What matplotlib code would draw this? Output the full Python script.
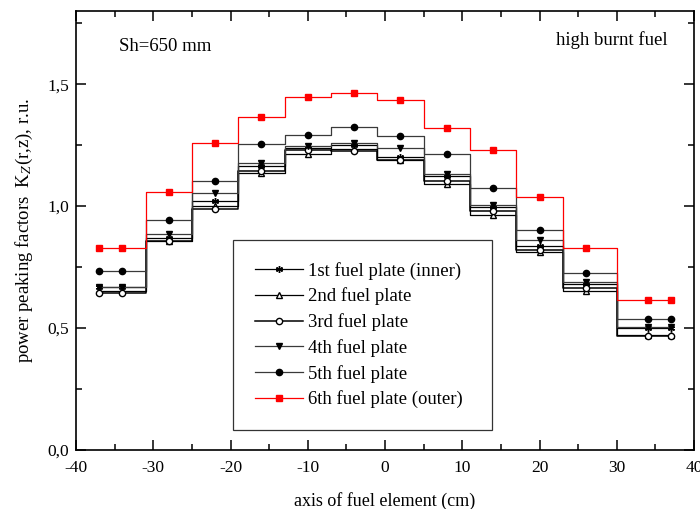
import matplotlib
matplotlib.use("Agg")
import matplotlib.pyplot as plt
from matplotlib.ticker import MultipleLocator, FuncFormatter

plt.rcParams['font.family'] = ['Liberation Serif', 'DejaVu Serif']
plt.rcParams['mathtext.fontset'] = 'stix'
plt.rcParams['axes.unicode_minus'] = False

x = [-37, -34, -28, -22, -16, -10, -4, 2, 8, 14, 20, 26, 34, 37]
plate1 = [0.668, 0.668, 0.868, 1.020, 1.165, 1.240, 1.250, 1.200, 1.123, 0.995, 0.835, 0.680, 0.500, 0.500]
plate2 = [0.650, 0.650, 0.858, 1.000, 1.135, 1.215, 1.235, 1.190, 1.090, 0.965, 0.812, 0.650, 0.470, 0.470]
plate3 = [0.645, 0.645, 0.857, 0.990, 1.142, 1.232, 1.225, 1.191, 1.105, 0.980, 0.820, 0.663, 0.468, 0.468]
plate4 = [0.669, 0.669, 0.884, 1.055, 1.175, 1.245, 1.257, 1.239, 1.130, 1.005, 0.861, 0.689, 0.505, 0.505]
plate5 = [0.735, 0.735, 0.943, 1.102, 1.255, 1.290, 1.325, 1.286, 1.212, 1.074, 0.903, 0.725, 0.536, 0.536]
plate6 = [0.830, 0.830, 1.056, 1.258, 1.366, 1.448, 1.464, 1.436, 1.320, 1.232, 1.038, 0.829, 0.613, 0.613]

labels = ["1st fuel plate (inner)", "2nd fuel plate", "3rd fuel plate",
          "4th fuel plate", "5th fuel plate", "6th fuel plate (outer)"]

fig = plt.figure(figsize=(7.0, 5.09), dpi=100)
ax = fig.add_axes([76/700, 1 - 450/509, (694-76)/700, (450-11)/509])

styles = [
    dict(color='black', marker=(6, 2, 0), mfc='black', mec='black', ms=5, lw=0.9),
    dict(color='black', marker='^', mfc='white', mec='black', ms=4.5, lw=0.9),
    dict(color='black', marker='o', mfc='white', mec='black', ms=4.5, lw=1.1),
    dict(color='#3a3a3a', marker='v', mfc='black', mec='black', ms=5, lw=0.9),
    dict(color='#3a3a3a', marker='o', mfc='black', mec='black', ms=4.5, lw=0.9),
    dict(color='#ff0000', marker='s', mfc='#ff0000', mec='#ff0000', ms=4, lw=0.9),
]
series = [plate1, plate2, plate3, plate4, plate5, plate6]
for ys, lab, st in zip(series, labels, styles):
    ax.plot(x, ys, drawstyle='steps-mid', label=lab, **st)

ax.set_xlim(-40, 40)
ax.set_ylim(0, 1.8)
ax.xaxis.set_major_locator(MultipleLocator(10))
ax.xaxis.set_minor_locator(MultipleLocator(5))
ax.yaxis.set_major_locator(MultipleLocator(0.5))
ax.yaxis.set_minor_locator(MultipleLocator(0.25))
ax.yaxis.set_major_formatter(FuncFormatter(lambda v, p: f"{v:.1f}".replace('.', ',')))
ax.tick_params(which='both', direction='in', top=True, right=True, labelsize=12.5, width=1.1)
ax.tick_params(which='major', length=7)
ax.tick_params(axis='x', which='major', pad=7)
ax.tick_params(axis='y', which='major', pad=5)
ax.tick_params(which='minor', length=4)
for s in ax.spines.values():
    s.set_linewidth(1.2)

ax.set_xlabel("axis of fuel element (cm)", fontsize=13, labelpad=12)
ax.set_ylabel(r"power peaking factors  K$_{Z}$(r,z), r.u.", fontsize=13.5, labelpad=9)

ax.text(0.0696, 0.92, "Sh=650 mm", transform=ax.transAxes, fontsize=13.5, ha='left', va='center')
ax.text(0.958, 0.934, "high burnt fuel", transform=ax.transAxes, fontsize=13.5, ha='right', va='center')

leg = ax.legend(loc='lower left', bbox_to_anchor=(0.254, 0.0456, 0.419, 0.435), mode='expand',
                fontsize=13.5, frameon=True, fancybox=False, edgecolor='black',
                handlelength=2.6, labelspacing=0.42, borderpad=1.15, handletextpad=0.25,
                borderaxespad=0)
leg.get_frame().set_linewidth(0.9)

fig.savefig("out.png", dpi=100)
